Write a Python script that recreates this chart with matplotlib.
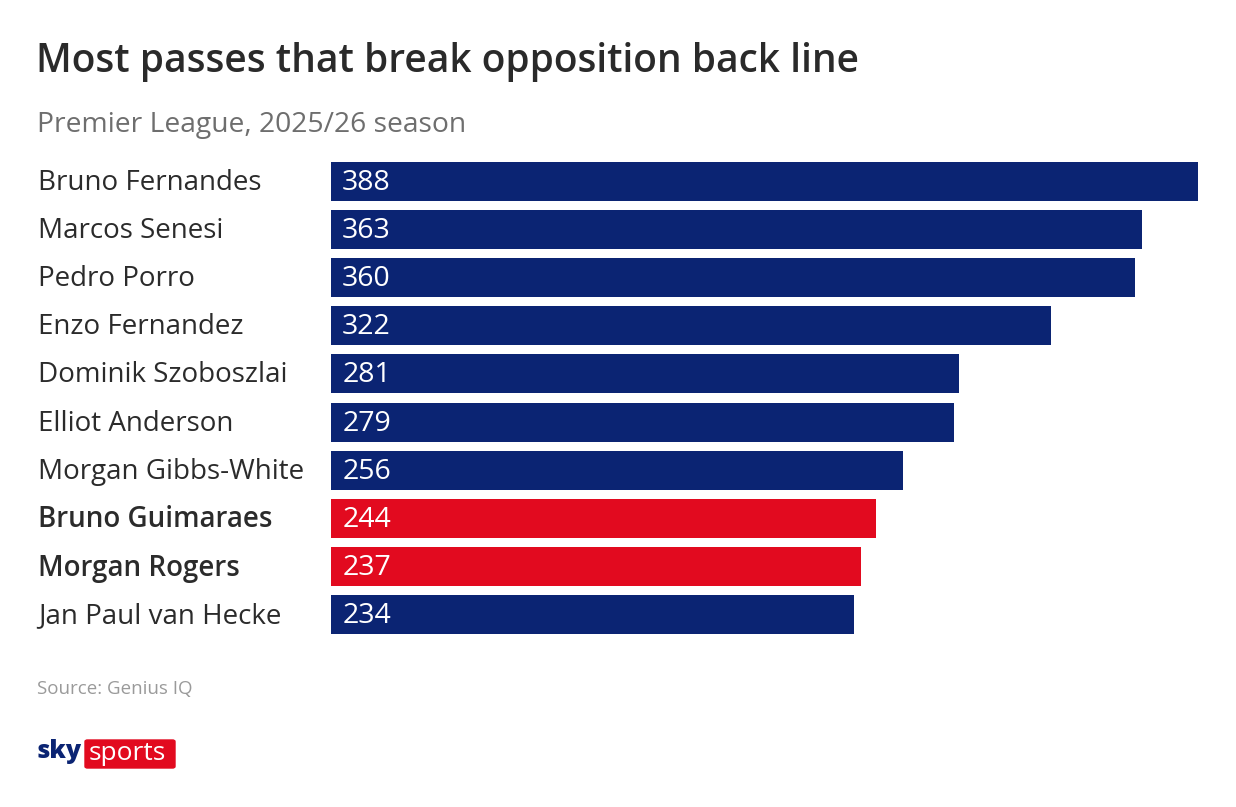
import matplotlib.pyplot as plt
from matplotlib.patches import FancyBboxPatch

players = ['Bruno Fernandes', 'Marcos Senesi', 'Pedro Porro', 'Enzo Fernandez',
           'Dominik Szoboszlai', 'Elliot Anderson', 'Morgan Gibbs-White',
           'Bruno Guimaraes', 'Morgan Rogers', 'Jan Paul van Hecke']
passes = [388, 363, 360, 322, 281, 279, 256, 244, 237, 234]
highlight = ['Bruno Guimaraes', 'Morgan Rogers']

navy = '#0b2473'
red = '#e20a1f'
font = 'Open Sans'

fig = plt.figure(figsize=(12.36, 8.07), dpi=100)
fig.patch.set_facecolor('white')
ax = fig.add_axes([331 / 1236, 1 - 639 / 807, 867 / 1236, 482 / 807])

ypos = list(range(len(players)))
colors = [red if p in highlight else navy for p in players]
ax.barh(ypos, passes, height=0.81, color=colors, align='center')
ax.set_xlim(0, max(passes))
ax.set_ylim(len(players) - 0.5, -0.5)
ax.axis('off')

# names sit in figure-x / data-y space
trans = ax.get_yaxis_transform()
for y, name, val in zip(ypos, players, passes):
    ax.text(5, y + 0.03, str(val), color='white', fontsize=20.5, family=font,
            va='center', ha='left')
    bold = name in highlight
    ax.text(-293 / 867, y + 0.03, name, transform=trans, fontsize=20, family=font,
            color='#2b2b2b', va='center', ha='left',
            fontweight='semibold' if bold else 'normal')

fig.text(36 / 1236, 1 - 62 / 807, 'Most passes that break opposition back line',
         fontsize=28, family=font, fontweight='semibold', color='#2a2a2a',
         va='center', ha='left')
fig.text(37 / 1236, 1 - 125 / 807, 'Premier League, 2025/26 season',
         fontsize=20.3, family=font, color='#6e6e6e', va='center', ha='left')
fig.text(37 / 1236, 1 - 689 / 807, 'Source: Genius IQ',
         fontsize=13.5, family=font, color='#9a9a9a', va='center', ha='left')

# sky sports logo
fig.text(36 / 1236, 1 - 752 / 807, 'sky', fontsize=18, family=font,
         fontweight='heavy', color=navy, va='center', ha='left')
fig.patches.append(FancyBboxPatch((85 / 1236, 1 - 768 / 807), 90 / 1236, 28 / 807,
                                  boxstyle='round,pad=0,rounding_size=0.002',
                                  transform=fig.transFigure, color=red, zorder=1))
fig.text(89 / 1236, 1 - 754 / 807, 'sports', fontsize=19, family=font,
         color='white', va='center', ha='left', zorder=2)

fig.savefig('out.png', dpi=100, facecolor='white')
